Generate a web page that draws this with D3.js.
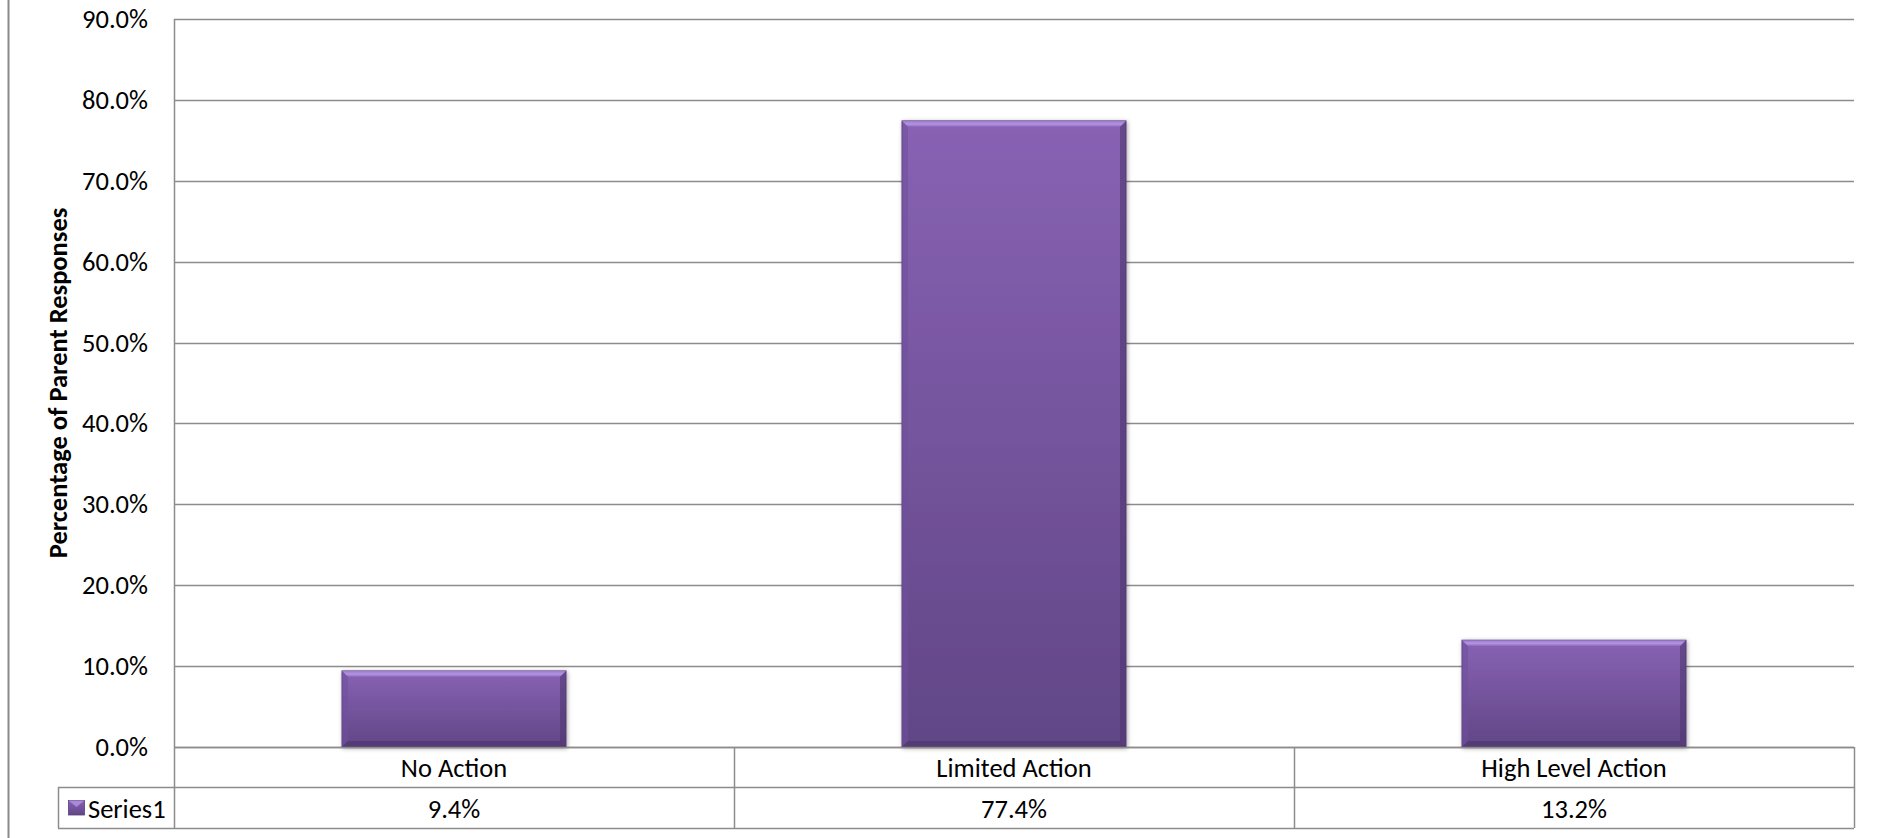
<!DOCTYPE html>
<html>
<head>
<meta charset="utf-8">
<script src="https://cdn.jsdelivr.net/npm/d3@7"></script>
<style>
  html, body { margin: 0; padding: 0; background: #fff; }
  svg { display: block; font-family: Carlito, Calibri, "Liberation Sans", Arial, sans-serif; }
</style>
</head>
<body>
<svg id="chart" width="1881" height="838"></svg>
<script>
const categories = ["No Action", "Limited Action", "High Level Action"];
const seriesName = "Series1";
const values = [0.094, 0.774, 0.132];
const yTicks = [0, 0.1, 0.2, 0.3, 0.4, 0.5, 0.6, 0.7, 0.8, 0.9];
const yTitle = "Percentage of Parent Responses";

const svg = d3.select("#chart");
const W = 1881, H = 838;
const plotLeft = 174, plotRight = 1854, plotTop = 19, axisY = 747;
const row1 = 787, row2 = 828, legendLeft = 58;
const grid = "#8c8c8c";
const fs = 26.5;

const x = d3.scaleBand().domain(categories).range([plotLeft, plotRight]).paddingInner(0).paddingOuter(0);
const y = d3.scaleLinear().domain([0, 0.9]).range([axisY, plotTop]);
const fmt = d3.format(".1%");

// defs
const defs = svg.append("defs");
const g1 = defs.append("linearGradient").attr("id", "barGrad").attr("x1", 0).attr("y1", 0).attr("x2", 0).attr("y2", 1);
g1.append("stop").attr("offset", "0%").attr("stop-color", "#8862b4");
g1.append("stop").attr("offset", "100%").attr("stop-color", "#614686");
const gTop = defs.append("linearGradient").attr("id", "topGrad").attr("x1", 0).attr("y1", 0).attr("x2", 0).attr("y2", 1);
gTop.append("stop").attr("offset", "0%").attr("stop-color", "#9c7bcc");
gTop.append("stop").attr("offset", "55%").attr("stop-color", "#b394e2");
gTop.append("stop").attr("offset", "100%").attr("stop-color", "#8a64b8");
const f = defs.append("filter").attr("id", "shadow").attr("x", "-10%").attr("y", "-10%").attr("width", "120%").attr("height", "120%");
f.append("feDropShadow").attr("dx", 1).attr("dy", 1).attr("stdDeviation", 2).attr("flood-color", "#000").attr("flood-opacity", 0.35);

// left outer border
svg.append("line").attr("x1", 8.5).attr("x2", 8.5).attr("y1", 0).attr("y2", H)
  .attr("stroke", "#8a8a8a").attr("stroke-width", 2);

// gridlines
svg.append("g").selectAll("line").data(yTicks).join("line")
  .attr("x1", plotLeft).attr("x2", plotRight)
  .attr("y1", d => Math.round(y(d)) + 0.5).attr("y2", d => Math.round(y(d)) + 0.5)
  .attr("stroke", grid).attr("stroke-width", 1.5);

// y axis (labels via d3 axis)
const yAxis = d3.axisLeft(y).tickValues(yTicks).tickFormat(fmt).tickSize(0).tickPadding(26);
const ya = svg.append("g").attr("transform", `translate(${plotLeft},0)`).call(yAxis);
ya.select(".domain").remove();
ya.selectAll("text").attr("font-size", fs).attr("fill", "#000")
  .attr("font-family", "Carlito, Calibri, 'Liberation Sans', Arial, sans-serif");

// y axis line (extends through table)
svg.append("line").attr("x1", plotLeft + 0.5).attr("x2", plotLeft + 0.5).attr("y1", plotTop).attr("y2", row2)
  .attr("stroke", grid).attr("stroke-width", 1.5);

// y title
svg.append("text")
  .attr("transform", `translate(66.5,${(plotTop + axisY) / 2}) rotate(-90)`)
  .attr("text-anchor", "middle")
  .attr("font-size", fs).attr("font-weight", "bold").attr("fill", "#000")
  .text(yTitle);

// bars
const barW = x.bandwidth() * 0.4;
const bev = 6;
const bars = svg.append("g").selectAll("g").data(values).join("g")
  .attr("filter", "url(#shadow)");
bars.each(function(v, i) {
  const gg = d3.select(this);
  const bx = x(categories[i]) + (x.bandwidth() - barW) / 2;
  const by = y(v);
  const bh = y(0) - y(v);
  gg.append("rect").attr("x", bx).attr("y", by).attr("width", barW).attr("height", bh)
    .attr("fill", "url(#barGrad)").attr("stroke", "#5a3f7e").attr("stroke-width", 1);
  gg.append("path").attr("d", `M${bx},${by}L${bx + barW},${by}L${bx + barW - bev},${by + bev}L${bx + bev},${by + bev}Z`)
    .attr("fill", "url(#topGrad)");
  gg.append("path").attr("d", `M${bx},${by}L${bx + bev},${by + bev}L${bx + bev},${by + bh - bev}L${bx},${by + bh}Z`)
    .attr("fill", "#6e509a").attr("opacity", 0.55);
  gg.append("path").attr("d", `M${bx + barW},${by}L${bx + barW - bev},${by + bev}L${bx + barW - bev},${by + bh - bev}L${bx + barW},${by + bh}Z`)
    .attr("fill", "#4f376f").attr("opacity", 0.6);
  gg.append("path").attr("d", `M${bx},${by + bh}L${bx + bev},${by + bh - bev}L${bx + barW - bev},${by + bh - bev}L${bx + barW},${by + bh}Z`)
    .attr("fill", "#4a3468").attr("opacity", 0.6);
});

// axis line at 0
svg.append("line").attr("x1", plotLeft).attr("x2", plotRight).attr("y1", axisY + 0.5).attr("y2", axisY + 0.5)
  .attr("stroke", grid).attr("stroke-width", 1.5);

// data table
const tbl = svg.append("g");
tbl.append("line").attr("x1", legendLeft).attr("x2", plotRight).attr("y1", row1 + 0.5).attr("y2", row1 + 0.5)
  .attr("stroke", grid).attr("stroke-width", 1.5);
tbl.append("line").attr("x1", legendLeft).attr("x2", plotRight).attr("y1", row2 + 0.5).attr("y2", row2 + 0.5)
  .attr("stroke", grid).attr("stroke-width", 1.5);
tbl.append("line").attr("x1", legendLeft + 0.5).attr("x2", legendLeft + 0.5).attr("y1", row1).attr("y2", row2)
  .attr("stroke", grid).attr("stroke-width", 1.5);
const seps = categories.slice(1).map(c => x(c)).concat([plotRight]);
tbl.selectAll("line.sep").data(seps).join("line").attr("class", "sep")
  .attr("x1", d => d + 0.5).attr("x2", d => d + 0.5).attr("y1", axisY).attr("y2", row2)
  .attr("stroke", grid).attr("stroke-width", 1.5);

tbl.selectAll("text.cat").data(categories).join("text").attr("class", "cat")
  .attr("x", d => x(d) + x.bandwidth() / 2).attr("y", (axisY + row1) / 2 + 1)
  .attr("text-anchor", "middle").attr("dominant-baseline", "central")
  .attr("font-size", fs).attr("fill", "#000").text(d => d);
tbl.selectAll("text.val").data(values).join("text").attr("class", "val")
  .attr("x", (d, i) => x(categories[i]) + x.bandwidth() / 2).attr("y", (row1 + row2) / 2 + 1)
  .attr("text-anchor", "middle").attr("dominant-baseline", "central")
  .attr("font-size", fs).attr("fill", "#000").text(d => fmt(d));

// legend key
tbl.append("rect").attr("x", 68.5).attr("y", 800.5).attr("width", 16).attr("height", 14.5)
  .attr("fill", "url(#barGrad)").attr("stroke", "#5a3f7e").attr("stroke-width", 0.8);
tbl.append("path").attr("d", "M68.5,800.5L84.5,800.5L76.5,807Z").attr("fill", "#b394e2").attr("opacity", 0.8);
tbl.append("text").attr("x", 88).attr("y", (row1 + row2) / 2 + 1)
  .attr("dominant-baseline", "central").attr("font-size", fs).attr("fill", "#000").text(seriesName);
</script>
</body>
</html>
